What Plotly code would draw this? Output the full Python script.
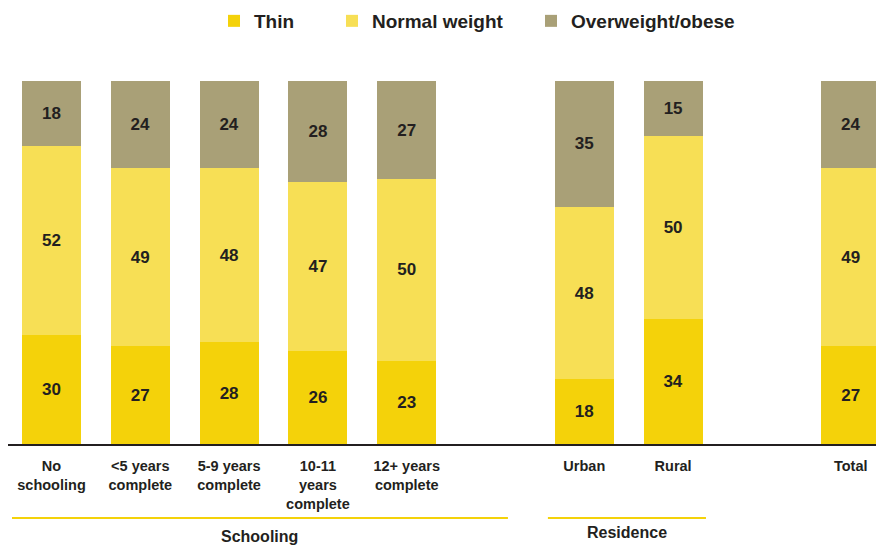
import plotly.graph_objects as go

categories = ["No<br>schooling", "<5 years<br>complete", "5-9 years<br>complete",
              "10-11<br>years<br>complete", "12+ years<br>complete",
              "Urban", "Rural", "Total"]
positions = [0, 1, 2, 3, 4, 6, 7, 9]
thin = [30, 27, 28, 26, 23, 18, 34, 27]
normal = [52, 49, 48, 47, 50, 48, 50, 49]
overweight = [18, 24, 24, 28, 27, 35, 15, 24]
series_names = ["Thin", "Normal weight", "Overweight/obese"]
colors = ["#F4D20A", "#F7DF55", "#A9A077"]
groups = [("Schooling", 0, 4), ("Residence", 6, 7)]

FONT = "Liberation Sans, Arial, sans-serif"
INK = "#231F20"

# The page body has an 8px default margin; compensate so the drawing matches.
W, H = 876, 538

fig = go.Figure()
legend_ids = ["legend", "legend2", "legend3"]
for name, vals, col, lg in zip(series_names, [thin, normal, overweight], colors, legend_ids):
    fig.add_trace(go.Bar(
        x=positions, y=vals, name="<b>%s</b>" % name,
        marker=dict(color=col, line=dict(width=0)),
        width=0.665, text=[str(v) for v in vals], texttemplate="<b>%{text}</b>",
        textposition="inside", insidetextanchor="middle", constraintext="none",
        textfont=dict(family=FONT, size=17, color=INK),
        hoverinfo="skip", legend=lg,
    ))

legend_x_px = [206, 324, 523]  # left edges in figure pixels
leg_common = dict(orientation="h", xanchor="left", yanchor="middle",
                  yref="container", xref="container",
                  y=1 - 13 / H, font=dict(family=FONT, size=19, color=INK),
                  itemwidth=30, bgcolor="rgba(0,0,0,0)")

layout_legends = {}
for lg, px in zip(legend_ids, legend_x_px):
    layout_legends[lg] = dict(leg_common, x=px / W)

fig.update_layout(
    barmode="stack", barnorm="percent",
    width=W, height=H,
    margin=dict(l=0, r=0, t=52, b=102, autoexpand=False),
    plot_bgcolor="white", paper_bgcolor="white",
    font=dict(family=FONT, color=INK),
    showlegend=True,
    xaxis=dict(range=[-0.49, 9.375], tickvals=positions,
               ticktext=["<b>%s</b>" % c.replace("<br>", "</b><br><b>") for c in categories],
               showgrid=False, zeroline=False, showline=True, linecolor=INK,
               linewidth=2, ticks="outside", ticklen=8, tickcolor="rgba(0,0,0,0)",
               tickfont=dict(family=FONT, size=14.5, color=INK)),
    yaxis=dict(range=[0, 105.8], visible=False),
    **layout_legends,
)

group_style = {"Schooling": (-0.445, 1.14, -0.240), "Residence": (-0.41, 0.37, -0.231)}
for gname, a, b in groups:
    lo, hi, ty = group_style[gname]
    fig.add_shape(type="line", xref="x", yref="paper", x0=a + lo, x1=b + hi,
                  y0=-0.193, y1=-0.193, line=dict(color="#F4D20A", width=2))
    fig.add_annotation(xref="x", yref="paper", x=(a + lo + b + hi) / 2, y=ty,
                       text="<b>%s</b>" % gname, showarrow=False,
                       font=dict(family=FONT, size=16, color=INK),
                       xanchor="center", yanchor="middle")

fig.write_html("out.html")
